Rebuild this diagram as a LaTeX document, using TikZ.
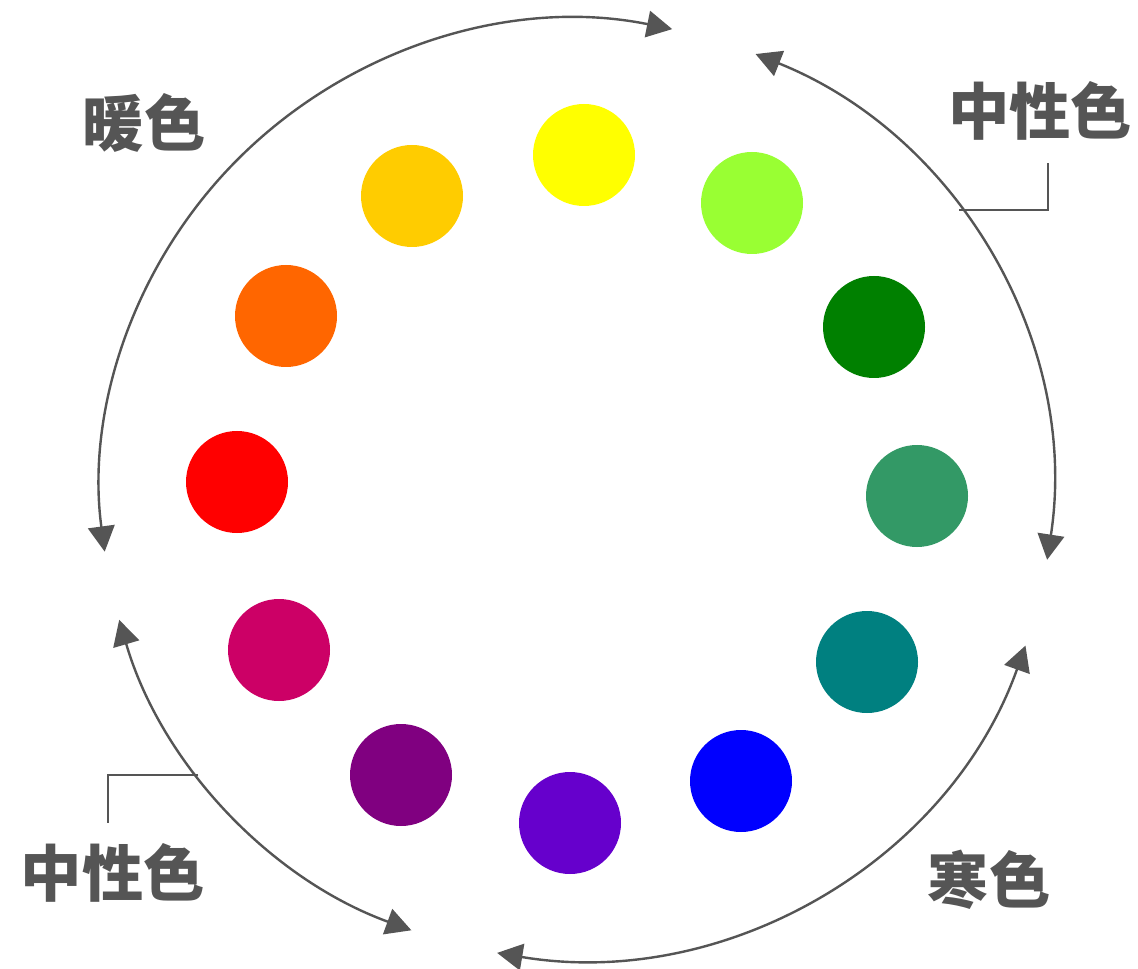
\documentclass[tikz,border=0pt]{standalone}
\usepackage{fontspec}
\newfontfamily\cjk{Noto Sans CJK SC}
\usetikzlibrary{arrows.meta}
\definecolor{ink}{HTML}{555555}
\definecolor{cYellow}{HTML}{FFFF00}
\definecolor{cLime}{HTML}{99FF33}
\definecolor{cGreen}{HTML}{008000}
\definecolor{cSea}{HTML}{339966}
\definecolor{cTeal}{HTML}{008080}
\definecolor{cBlue}{HTML}{0000FF}
\definecolor{cViolet}{HTML}{6600CC}
\definecolor{cPurple}{HTML}{800080}
\definecolor{cMagenta}{HTML}{CC0066}
\definecolor{cRed}{HTML}{FF0000}
\definecolor{cOrange}{HTML}{FF6600}
\definecolor{cGold}{HTML}{FFCC00}
\tikzset{
  dot/.style={circle, minimum size=76.5pt, inner sep=0pt, draw=none},
  arcline/.style={draw=ink, line width=1.8pt, {Triangle[length=19pt,width=20pt]}-{Triangle[length=19pt,width=20pt]}},
  leader/.style={draw=ink, line width=1.6pt},
  lbl/.style={text=ink, font=\cjk\bfseries\fontsize{46}{46}\selectfont, inner sep=0pt}
}
\begin{document}
\begin{tikzpicture}[x=0.75pt, y=-0.75pt]
\useasboundingbox (0,0) rectangle (1138,969);
\fill[white] (0,0) rectangle (1138,969);
\coordinate (C) at (576.5,489.5);
% colour dots
\node[dot, fill=cYellow]  (d1)  at (584,155) {};
\node[dot, fill=cLime]    (d2)  at (752,203) {};
\node[dot, fill=cGreen]   (d3)  at (874,327) {};
\node[dot, fill=cSea]     (d4)  at (917,496) {};
\node[dot, fill=cTeal]    (d5)  at (867,662) {};
\node[dot, fill=cBlue]    (d6)  at (741,781) {};
\node[dot, fill=cViolet]  (d7)  at (570,823) {};
\node[dot, fill=cPurple]  (d8)  at (401,775) {};
\node[dot, fill=cMagenta] (d9)  at (279,650) {};
\node[dot, fill=cRed]     (d10) at (237,482) {};
\node[dot, fill=cOrange]  (d11) at (286,316) {};
\node[dot, fill=cGold]    (d12) at (412,196) {};
% arcs
\draw[arcline] ([shift={(-78.4:476 and 470)}]C) arc[start angle=-78.4, end angle=-187.6, x radius=476, y radius=470];
\draw[arcline] ([shift={(-67.9:476 and 470)}]C) arc[start angle=-67.9, end angle=8.6, x radius=476, y radius=470];
\draw[arcline] ([shift={(19.4:476 and 470)}]C) arc[start angle=19.4, end angle=99.6, x radius=476, y radius=470];
\draw[arcline] ([shift={(110.3:476 and 470)}]C) arc[start angle=110.3, end angle=163.9, x radius=476, y radius=470];
% labels
\node[lbl] (warm) at (144,123) {暖色};
\node[lbl] (n1) at (1040,111) {中性色};
\node[lbl] (cold) at (989,880) {寒色};
\node[lbl] (n2) at (113,873) {中性色};
% leader lines
\coordinate (a1) at ([shift={(-36.5:476 and 470)}]C);
\coordinate (t1) at (1048,163);
\draw[leader] (a1) -- (a1 -| t1) -- (t1);
\coordinate (a2) at ([shift={(142.6:476 and 470)}]C);
\coordinate (t2) at (108,823);
\draw[leader] (a2) -- (a2 -| t2) -- (t2);
\end{tikzpicture}
\end{document}
